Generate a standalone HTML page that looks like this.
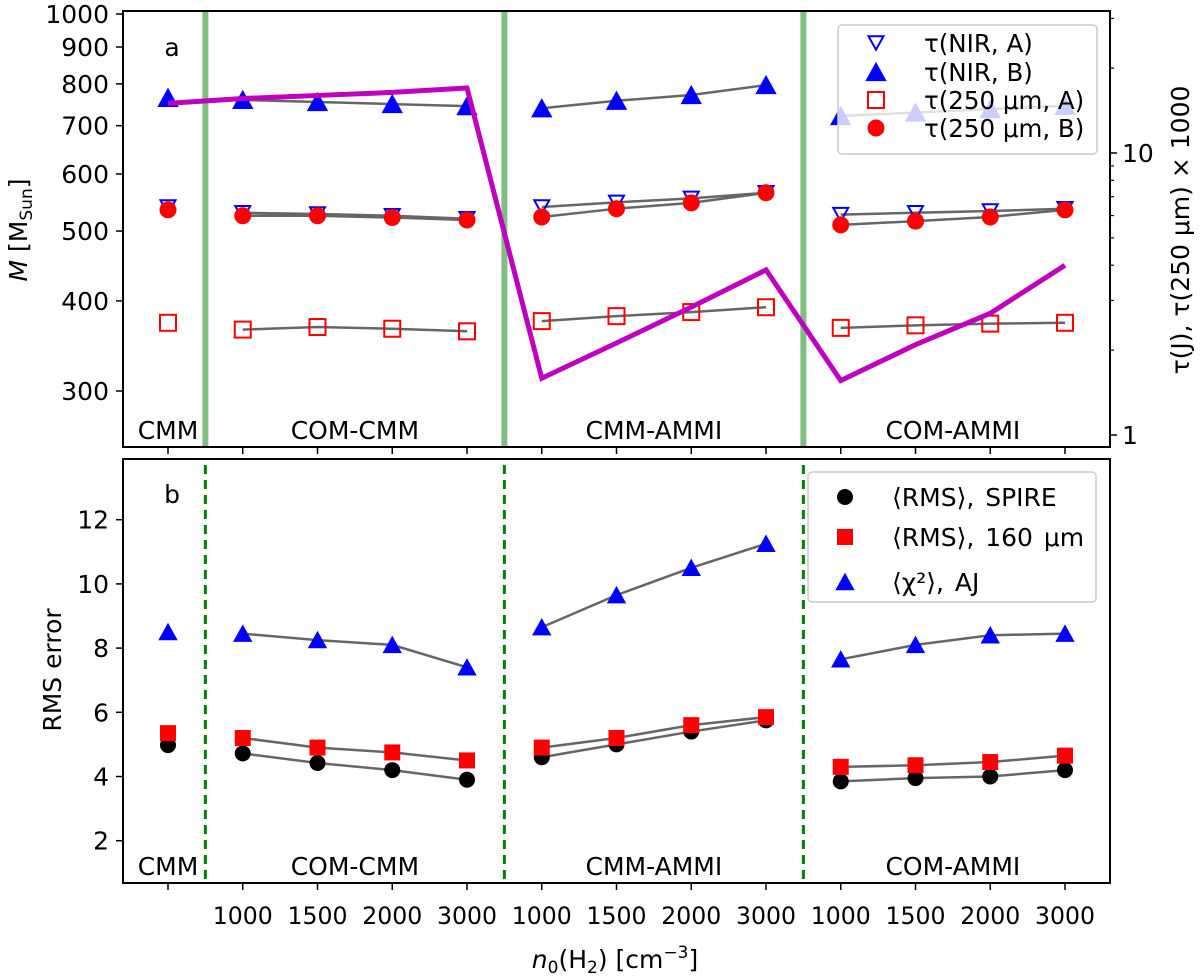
<!DOCTYPE html>
<html><head><meta charset="utf-8"><style>
html,body{margin:0;padding:0;background:#fff;}
svg{display:block;font-family:"DejaVu Sans","Liberation Sans",sans-serif;}
</style></head><body>
<svg id="chart" width="1200" height="979" viewBox="0 0 1200 979" xmlns="http://www.w3.org/2000/svg"></svg>
<script>
const xTickLabels=["","1000","1500","2000","3000","1000","1500","2000","3000","1000","1500","2000","3000"];
const groups=["CMM","COM-CMM","CMM-AMMI","COM-AMMI"];
const groupCenters=[0,2.5,6.5,10.5];
const separators=[0.5,4.5,8.5];
// top panel (mass, M_Sun)
const nirA=[540,530,528,525,520,540,548,555,565,527,530,533,537];
const nirB=[765,760,755,750,745,740,758,772,797,722,730,738,746];
const s250A=[373,365,368,366,363,375,381,386,392,367,370,372,373];
const s250B=[535,525,525,522,518,523,537,547,565,510,516,523,535];
// magenta line on right axis
const tauJ=[15.0,15.6,16.0,16.4,17.0,1.59,2.12,2.84,3.85,1.56,2.09,2.70,4.0];
// bottom panel
const rmsSpire=[4.98,4.72,4.42,4.2,3.9,4.6,5.0,5.4,5.75,3.85,3.95,4.0,4.2];
const rms160=[5.35,5.2,4.9,4.75,4.5,4.9,5.2,5.6,5.85,4.3,4.35,4.45,4.65];
const chiAJ=[8.5,8.45,8.25,8.1,7.4,8.65,9.65,10.5,11.25,7.65,8.1,8.4,8.45];
const leftTicksTop=[300,400,500,600,700,800,900,1000];
const rightMajor=[1,10];
const rightMinor=[2,3,4,5,6,7,8,9,20,30];
const bottomTicks=[2,4,6,8,10,12];

const NS="http://www.w3.org/2000/svg";
const svg=document.getElementById('chart');
function el(tag,attrs,parent){const e=document.createElementNS(NS,tag);for(const k in attrs)e.setAttribute(k,attrs[k]);(parent||svg).appendChild(e);return e;}
const L=123,R=1110,T1=11,B1=447,T2=459,B2=883;
const FS=25;
const xS=i=>168+(1065-168)/12*i;
const yM=v=>14+721*Math.log10(1000/v);
const yR=v=>153-282*Math.log10(v/10);
const yB=v=>840.7-(v-2)*32.1;

separators.forEach((s,i)=>{
 const a=el('line',{x1:xS(s),x2:xS(s),y1:T1,y2:B1,stroke:'#7fbf7f','stroke-width':6});
 
 const b=el('line',{x1:xS(s),x2:xS(s),y1:T2+6,y2:B2-4,stroke:'#008000','stroke-width':3,'stroke-dasharray':'9,6'});
 
});

function seriesLine(arr,yf,name){
 [[1,4],[5,8],[9,12]].forEach(([a,b],g)=>{
  let d='';for(let i=a;i<=b;i++)d+=(i==a?'M':'L')+xS(i)+','+yf(arr[i]);
  const p=el('path',{d:d,fill:'none',stroke:'#666','stroke-width':2.5});
  
 });
}
function tri(x,y,s,fill,stroke,down){
 const h=s*0.9;
 const pts=down?[[x-s/2,y-h/2],[x+s/2,y-h/2],[x,y+h/2]]:[[x-s/2,y+h/2],[x+s/2,y+h/2],[x,y-h/2]];
 return el('polygon',{points:pts.map(p=>p.join(',')).join(' '),fill:fill,stroke:stroke,'stroke-width':2});
}
function marker(type,x,y){
 let m;
 if(type=='triUp')m=tri(x,y,18,'#0000ff','#0000ff',false);
 else if(type=='triDown')m=tri(x,y,15,'none','#0000ff',true);
 else if(type=='sqOpen')m=el('rect',{x:x-8,y:y-8,width:16,height:16,fill:'none',stroke:'#ff0000','stroke-width':2});
 else if(type=='circ')m=el('circle',{cx:x,cy:y,r:8.5,fill:'#ff0000'});
 else if(type=='circK')m=el('circle',{cx:x,cy:y,r:8,fill:'#000'});
 else if(type=='sqR')m=el('rect',{x:x-8,y:y-8,width:16,height:16,fill:'#ff0000'});
 else if(type=='triS')m=tri(x,y,16,'#0000ff','#0000ff',false);
 return m;
}
function series(arr,yf,type,name){
 seriesLine(arr,yf,name);
 arr.forEach((v,i)=>{const m=marker(type,xS(i),yf(v));
  });
}
series(s250A,yM,'sqOpen','tau-250-a');
series(nirA,yM,'triDown','tau-nir-a');
series(s250B,yM,'circ','tau-250-b');
series(nirB,yM,'triUp','tau-nir-b');
{let d='';tauJ.forEach((v,i)=>d+=(i?'L':'M')+xS(i)+','+yR(v));
 const p=el('path',{d:d,fill:'none',stroke:'#bf00bf','stroke-width':5});
 }
series(rmsSpire,yB,'circK','rms-spire');
series(rms160,yB,'sqR','rms-160');
series(chiAJ,yB,'triS','chi2-aj');

function txt(x,y,s,attrs){const t=el('text',Object.assign({x:x,y:y,'font-size':FS,fill:'#000'},attrs||{}));t.textContent=s;return t;}
groups.forEach((g,i)=>{
 const a=txt(xS(groupCenters[i]),439,g,{'text-anchor':'middle'});
 
 const b=txt(xS(groupCenters[i]),875,g,{'text-anchor':'middle'});
 
});
{const a=txt(172,56,'a',{'text-anchor':'middle'});
 const b=txt(172,503,'b',{'text-anchor':'middle'});}

{const g=el('g',{});
 el('rect',{x:838,y:25,width:259,height:129,rx:4,fill:'#fff','fill-opacity':0.8,stroke:'#ccc','stroke-width':1.5},g);
 const rows=[['triDown','τ(NIR, A)',43],['triUp','τ(NIR, B)',72],['sqOpen','τ(250 μm, A)',100],['circ','τ(250 μm, B)',128]];
 rows.forEach((r,i)=>{const m=marker(r[0],876,r[2]);g.appendChild(m);
  
  const t=txt(924,r[2]+9,r[1],{'font-size':24.5});g.appendChild(t);
  });
}
{const g=el('g',{});
 el('rect',{x:808,y:472,width:288,height:130,rx:4,fill:'#fff','fill-opacity':0.8,stroke:'#ccc','stroke-width':1.5},g);
 const rows=[['circK','⟨RMS⟩,  SPIRE',497],['sqR','⟨RMS⟩,  160 μm',537],['triS','⟨χ²⟩,  AJ',582]];
 rows.forEach((r,i)=>{const m=marker(r[0],845,r[2]);g.appendChild(m);
  
  const t=txt(892,r[2]+9,r[1],{'font-size':FS,'xml:space':'preserve','word-spacing':3});g.appendChild(t);
  });
}

{const a=el('rect',{x:L,y:T1,width:R-L,height:B1-T1,fill:'none',stroke:'#000','stroke-width':2});
 const b=el('rect',{x:L,y:T2,width:R-L,height:B2-T2,fill:'none',stroke:'#000','stroke-width':2});}

xTickLabels.forEach((s,i)=>{
 el('line',{x1:xS(i),x2:xS(i),y1:B1,y2:B1+7,stroke:'#000','stroke-width':1.5});
 el('line',{x1:xS(i),x2:xS(i),y1:B2,y2:B2+7,stroke:'#000','stroke-width':1.5});
 if(s){const t=txt(xS(i),924,s,{'text-anchor':'middle','font-size':24,'textLength':60,'lengthAdjust':'spacingAndGlyphs'});
  }
});
leftTicksTop.forEach(v=>{const y=yM(v);
 el('line',{x1:L-7,x2:L,y1:y,y2:y,stroke:'#000','stroke-width':1.5});
 const t=txt(L-14,y+9,String(v),{'text-anchor':'end'});
 });
rightMajor.forEach(v=>{const y=yR(v);
 el('line',{x1:R,x2:R+7,y1:y,y2:y,stroke:'#000','stroke-width':1.5});
 const t=txt(R+12,y+9,String(v));
 });
rightMinor.forEach(v=>{const y=yR(v);el('line',{x1:R,x2:R+4,y1:y,y2:y,stroke:'#000','stroke-width':1.2});});
bottomTicks.forEach(v=>{const y=yB(v);
 el('line',{x1:L-7,x2:L,y1:y,y2:y,stroke:'#000','stroke-width':1.5});
 const t=txt(L-14,y+9,String(v),{'text-anchor':'end'});
 });

{const t=el('text',{x:0,y:0,'font-size':FS,'text-anchor':'middle',transform:'translate(27,230) rotate(-90)'});
 t.innerHTML='<tspan font-style="italic">M</tspan> [M<tspan font-size="17" dy="5">Sun</tspan><tspan dy="-5">]</tspan>';
 
 const r=el('text',{x:0,y:0,'font-size':FS,'text-anchor':'middle',transform:'translate(1189,230) rotate(-90)'});
 r.textContent='τ(J),  τ(250 μm) × 1000';
 
 const b=el('text',{x:0,y:0,'font-size':FS,'text-anchor':'middle',transform:'translate(61,670) rotate(-90)'});
 b.textContent='RMS error';
 
 const x=el('text',{x:615,y:968,'font-size':FS,'text-anchor':'middle'});
 x.innerHTML='<tspan font-style="italic">n</tspan><tspan font-size="17" dy="5">0</tspan><tspan dy="-5">(H</tspan><tspan font-size="17" dy="5">2</tspan><tspan dy="-5">) [cm</tspan><tspan font-size="17" dy="-10">−3</tspan><tspan dy="10">]</tspan>';
 }
</script>
</body></html>
